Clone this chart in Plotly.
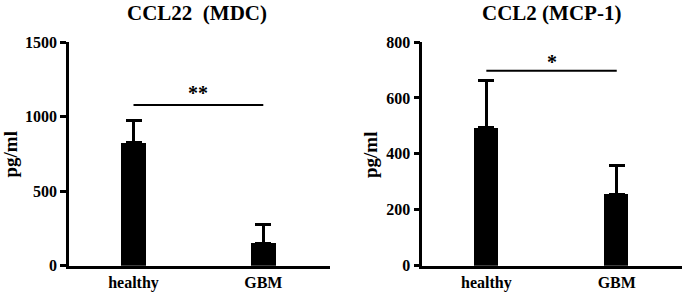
import plotly.graph_objects as go

categories = ["healthy", "GBM"]
ccl22_mean = [825, 150]
ccl22_err = [150, 123]
ccl2_mean = [493, 255]
ccl2_err = [168, 102]
titles = ["CCL22  (MDC)", "CCL2 (MCP-1)"]
y_label = "pg/ml"
sig_left = "**"
sig_right = "*"
left_ticks = [0, 500, 1000, 1500]
right_ticks = [0, 200, 400, 600, 800]

W, H = 685, 292
FONT = "Liberation Serif"

fig = go.Figure()

err_style = dict(type="data", symmetric=False, color="black", thickness=3, width=8)

fig.add_trace(go.Bar(x=[0, 1], y=ccl22_mean, width=0.193, marker=dict(color="black", line=dict(width=0)),
                     error_y=dict(array=ccl22_err, arrayminus=[0, 0], **err_style),
                     xaxis="x", yaxis="y", showlegend=False))
fig.add_trace(go.Bar(x=[0, 1], y=ccl2_mean, width=0.184, marker=dict(color="black", line=dict(width=0)),
                     error_y=dict(array=ccl2_err, arrayminus=[0, 0], **err_style),
                     xaxis="x2", yaxis="y2", showlegend=False))

# significance lines
fig.add_trace(go.Scatter(x=[0, 1], y=[1078, 1078], mode="lines", line=dict(color="black", width=2),
                         xaxis="x", yaxis="y", showlegend=False, hoverinfo="skip"))
fig.add_trace(go.Scatter(x=[0, 1], y=[697, 697], mode="lines", line=dict(color="black", width=2),
                         xaxis="x2", yaxis="y2", showlegend=False, hoverinfo="skip"))

ydom = [(292 - 265.7) / H, (292 - 42) / H]
tickfont = dict(family=FONT, size=16, color="black")
axis_common = dict(showline=True, linecolor="black", linewidth=2.5, showgrid=False, zeroline=False,
                   tickfont=tickfont, automargin=False)

fig.update_layout(
    width=W, height=H,
    margin=dict(l=0, r=0, t=0, b=0, pad=0, autoexpand=False),
    plot_bgcolor="white", paper_bgcolor="white",
    bargap=0,
    xaxis=dict(domain=[69 / W, 330 / W], range=[-0.497, 1.514], tickvals=[0, 1],
               ticktext=["<b>" + c + "</b>" for c in categories],
               ticks="", anchor="y", **axis_common),
    yaxis=dict(domain=ydom, range=[0, 1500], tickvals=left_ticks,
               ticktext=["<b>" + str(v) + "</b>" for v in left_ticks],
               ticks="outside", ticklen=6, tickwidth=2.5, tickcolor="black", anchor="x", **axis_common),
    xaxis2=dict(domain=[422.3 / W, 681.7 / W], range=[-0.491, 1.498], tickvals=[0, 1],
                ticktext=["<b>" + c + "</b>" for c in categories],
                ticks="", anchor="y2", **axis_common),
    yaxis2=dict(domain=ydom, range=[0, 800], tickvals=right_ticks,
                ticktext=["<b>" + str(v) + "</b>" for v in right_ticks],
                ticks="outside", ticklen=6, tickwidth=2.5, tickcolor="black", anchor="x2", **axis_common),
)

ann = []
for t, cx in zip(titles, [196.7, 551.7]):
    ann.append(dict(text="<b>" + t + "</b>", x=cx / W, y=1 - 13 / H, xref="paper", yref="paper",
                    showarrow=False, font=dict(family=FONT, size=21, color="black"),
                    xanchor="center", yanchor="middle"))
for cx in [9.5, 370]:
    ann.append(dict(text="<b>" + y_label + "</b>", x=cx / W, y=1 - 155 / H, xref="paper", yref="paper",
                    showarrow=False, textangle=-90, font=dict(family=FONT, size=19, color="black"),
                    xanchor="center", yanchor="middle", borderpad=0))
ann.append(dict(text="<b>" + sig_left + "</b>", x=0.5, y=1158, xref="x", yref="y", showarrow=False,
                font=dict(family=FONT, size=20, color="black"), xanchor="center", yanchor="middle"))
ann.append(dict(text="<b>" + sig_right + "</b>", x=0.5, y=730, xref="x2", yref="y2", showarrow=False,
                font=dict(family=FONT, size=20, color="black"), xanchor="center", yanchor="middle"))
fig.update_layout(annotations=ann)

fig.write_html("out.html", config={"displayModeBar": False},
               post_script="document.body.style.margin='0px';document.body.style.overflow='hidden';")
